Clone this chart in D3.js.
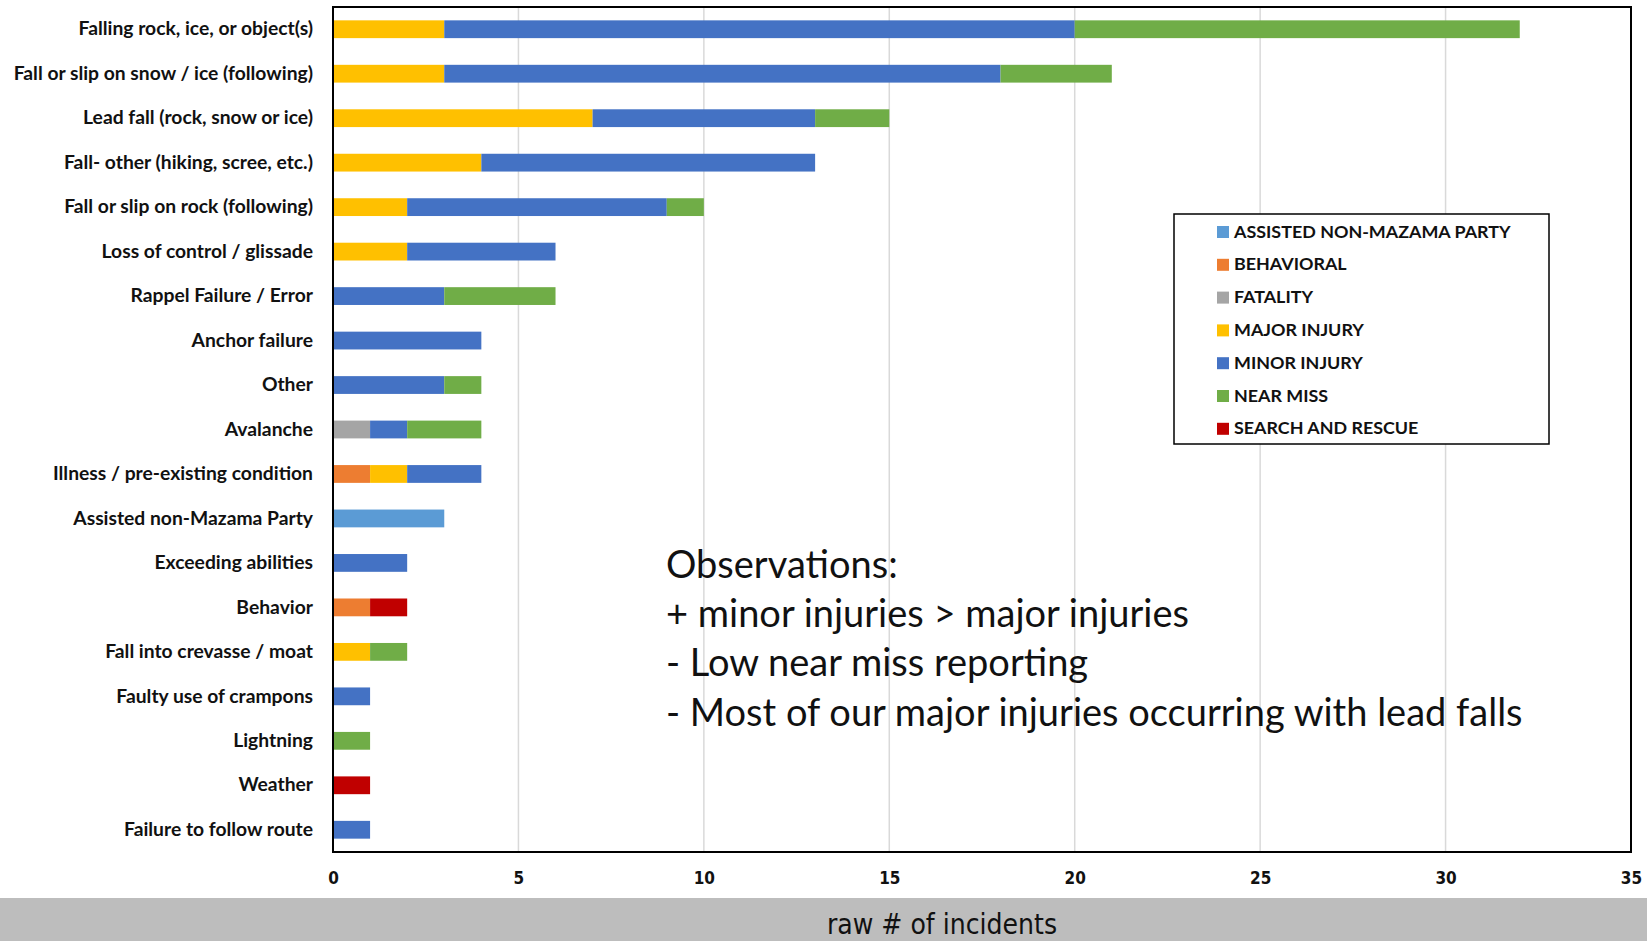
<!DOCTYPE html>
<html>
<head>
<meta charset="utf-8">
<script src="https://cdn.jsdelivr.net/npm/d3@7"></script>
<style>
  html, body { margin: 0; padding: 0; background: #fff; }
  svg { display: block; }
</style>
</head>
<body>
<svg id="chart" width="1647" height="941"></svg>
<script>
const categories = [
  "Falling rock, ice, or object(s)",
  "Fall or slip on snow / ice (following)",
  "Lead fall (rock, snow or ice)",
  "Fall- other (hiking, scree, etc.)",
  "Fall or slip on rock (following)",
  "Loss of control / glissade",
  "Rappel Failure / Error",
  "Anchor failure",
  "Other",
  "Avalanche",
  "Illness / pre-existing condition",
  "Assisted non-Mazama Party",
  "Exceeding abilities",
  "Behavior",
  "Fall into crevasse / moat",
  "Faulty use of crampons",
  "Lightning",
  "Weather",
  "Failure to follow route"
];
const seriesNames = ["ASSISTED NON-MAZAMA PARTY", "BEHAVIORAL", "FATALITY", "MAJOR INJURY", "MINOR INJURY", "NEAR MISS", "SEARCH AND RESCUE"];
const assisted   = [0,0,0,0,0,0,0,0,0,0,0,3,0,0,0,0,0,0,0];
const behavioral = [0,0,0,0,0,0,0,0,0,0,1,0,0,1,0,0,0,0,0];
const fatality   = [0,0,0,0,0,0,0,0,0,1,0,0,0,0,0,0,0,0,0];
const major      = [3,3,7,4,2,2,0,0,0,0,1,0,0,0,1,0,0,0,0];
const minor      = [17,15,6,9,7,4,3,4,3,1,2,0,2,0,0,1,0,0,1];
const nearMiss   = [12,3,2,0,1,0,3,0,1,2,0,0,0,0,1,0,1,0,0];
const sar        = [0,0,0,0,0,0,0,0,0,0,0,0,0,1,0,0,0,1,0];
const colors = ["#5B9BD5", "#ED7D31", "#A5A5A5", "#FFC000", "#4472C4", "#70AD47", "#C00000"];
const xTicks = [0, 5, 10, 15, 20, 25, 30, 35];
const xTitle = "raw # of incidents";
const notes = [
  "Observations:",
  "+ minor injuries > major injuries",
  "- Low near miss reporting",
  "- Most of our major injuries occurring with lead falls"
];

const seriesValues = [assisted, behavioral, fatality, major, minor, nearMiss, sar];
const rows = categories.map((c, i) => {
  const r = { category: c };
  seriesNames.forEach((s, j) => { r[s] = seriesValues[j][i]; });
  return r;
});

const svg = d3.select("#chart");
const W = 1647, H = 941;
const plot = { left: 333, right: 1631, top: 7, bottom: 852 };

const x = d3.scaleLinear().domain([0, 35]).range([plot.left, plot.right]);
const y = d3.scaleBand().domain(categories).range([plot.top, plot.bottom]).paddingInner(0.6).paddingOuter(0.3);
const color = d3.scaleOrdinal().domain(seriesNames).range(colors);

// gray band at bottom
svg.append("rect").attr("x", 0).attr("y", 898).attr("width", W).attr("height", H - 898).attr("fill", "#BDBDBD");

// gridlines
svg.append("g").selectAll("line").data(xTicks.filter(t => t > 0 && t < 35)).join("line")
  .attr("x1", d => x(d)).attr("x2", d => x(d))
  .attr("y1", plot.top).attr("y2", plot.bottom)
  .attr("stroke", "#D9D9D9").attr("stroke-width", 1.5);

// stacked bars
const stack = d3.stack().keys(seriesNames)(rows);
svg.append("g").selectAll("g").data(stack).join("g")
  .attr("fill", d => color(d.key))
  .selectAll("rect").data(d => d.filter(p => p[1] - p[0] > 0)).join("rect")
  .attr("x", d => x(d[0]))
  .attr("width", d => x(d[1]) - x(d[0]))
  .attr("y", d => y(d.data.category))
  .attr("height", y.bandwidth());

// frame
svg.append("rect").attr("x", plot.left).attr("y", plot.top)
  .attr("width", plot.right - plot.left).attr("height", plot.bottom - plot.top)
  .attr("fill", "none").attr("stroke", "#000").attr("stroke-width", 2);

// category axis labels
const yAxis = d3.axisLeft(y).tickSize(0).tickPadding(20);
const gy = svg.append("g").attr("transform", `translate(${plot.left},0)`).call(yAxis);
gy.select(".domain").remove();
gy.selectAll("text")
  .attr("font-family", "Lato, 'Open Sans', sans-serif")
  .attr("font-weight", "bold").attr("font-size", 19.3).attr("fill", "#111");

// x axis tick labels
const xAxis = d3.axisBottom(x).tickValues(xTicks).tickSize(0).tickPadding(20);
const gx = svg.append("g").attr("transform", `translate(0,${plot.bottom})`).call(xAxis);
gx.select(".domain").remove();
gx.selectAll("text")
  .attr("font-family", "'Liberation Sans Narrow', 'DejaVu Sans Condensed', sans-serif")
  .attr("font-weight", "bold").attr("font-size", 17).attr("fill", "#111");

// x title
svg.append("text").attr("x", 942).attr("y", 926).attr("text-anchor", "middle")
  .attr("dominant-baseline", "middle")
  .attr("font-family", "'Liberation Sans Narrow', 'DejaVu Sans Condensed', sans-serif")
  .attr("font-size", 28).attr("fill", "#111").text(xTitle);

// legend
const lg = svg.append("g");
lg.append("rect").attr("x", 1174).attr("y", 214).attr("width", 375).attr("height", 230)
  .attr("fill", "#fff").attr("stroke", "#000").attr("stroke-width", 1.5);
const li = lg.selectAll("g.item").data(seriesNames).join("g").attr("class", "item")
  .attr("transform", (d, i) => `translate(1217,${232 + i * 32.8})`);
li.append("rect").attr("x", 0).attr("y", -6).attr("width", 12).attr("height", 12).attr("fill", d => color(d));
li.append("text").attr("x", 17).attr("y", 1).attr("dominant-baseline", "middle")
  .attr("font-family", "Lato, 'Open Sans', sans-serif").attr("font-weight", "bold")
  .attr("font-size", 17.9).attr("fill", "#111").text(d => d);

// observations
svg.append("g").selectAll("text").data(notes).join("text")
  .attr("x", 666).attr("y", (d, i) => 568 + i * 49.3)
  .attr("dominant-baseline", "middle")
  .attr("font-family", "Lato, 'Open Sans', sans-serif")
  .attr("font-size", 38).attr("fill", "#111").text(d => d);
</script>
</body>
</html>
